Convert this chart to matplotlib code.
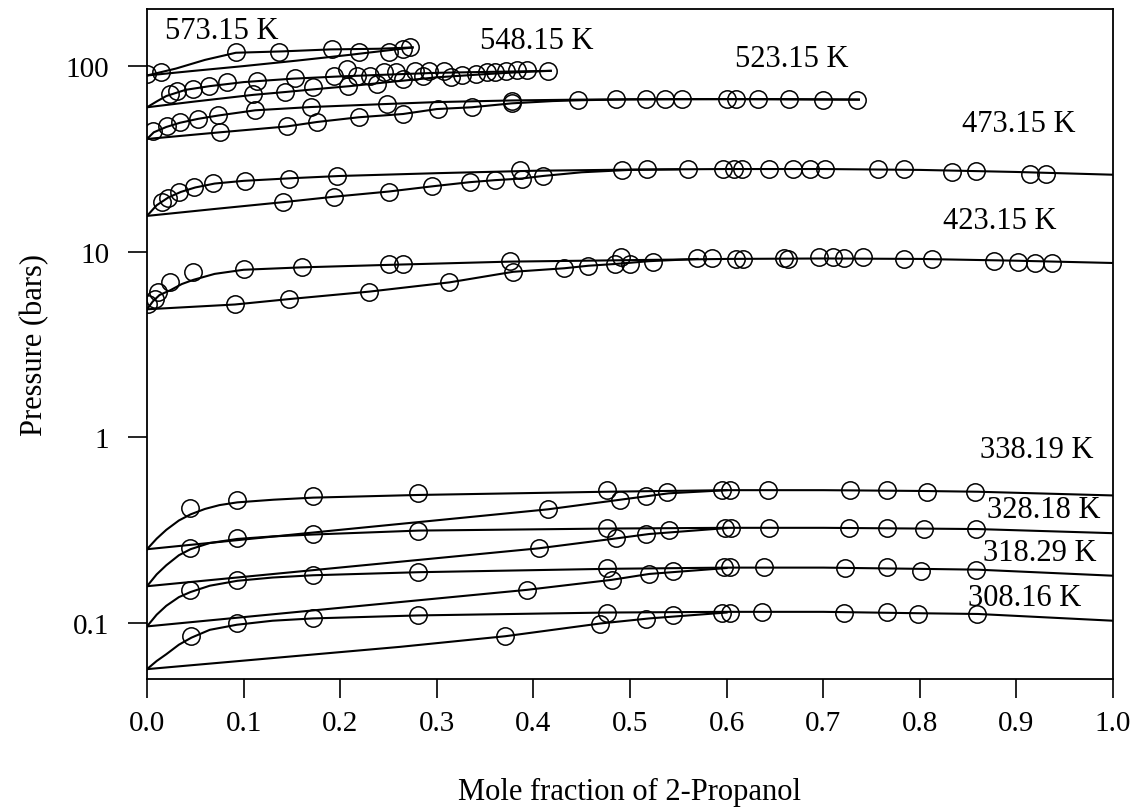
import matplotlib
matplotlib.use("Agg")
import matplotlib.pyplot as plt
from matplotlib.ticker import FixedLocator, FixedFormatter, NullLocator

plt.rcParams['font.family'] = ['Liberation Serif', 'DejaVu Serif']

# ---- 573.15 K ----
t573_bub_x = [0, 0.03, 0.06, 0.092, 0.14, 0.19, 0.24, 0.275]
t573_bub_p = [89, 97, 108, 118, 120, 123, 124, 126]
t573_dew_x = [0, 0.046, 0.1, 0.155, 0.21, 0.275]
t573_dew_p = [89, 94, 100, 107, 115, 126]
t573_pts_x = [0.0, 0.014, 0.092, 0.137, 0.191, 0.219, 0.250, 0.265, 0.272]
t573_pts_p = [90.5, 93, 118.5, 118.5, 123, 119.5, 118.5, 123, 126]

# ---- 548.15 K ----
t548_bub_x = [0, 0.01, 0.02, 0.04, 0.065, 0.1, 0.15, 0.2, 0.25, 0.3, 0.35, 0.418]
t548_bub_p = [60, 64.5, 69, 74.5, 78, 82, 85.5, 88, 90, 92, 93, 94.3]
t548_dew_x = [0, 0.05, 0.11, 0.143, 0.179, 0.21, 0.25, 0.3, 0.35, 0.39, 0.418]
t548_dew_p = [60, 64.5, 70, 72.5, 75.5, 78, 82, 87, 90.5, 93, 94.3]
t548_pts_x = [0.0238, 0.031, 0.048, 0.0645, 0.083, 0.114, 0.153, 0.194, 0.207, 0.217,
              0.231, 0.245, 0.258, 0.277, 0.2915, 0.307, 0.326, 0.341, 0.352, 0.360,
              0.372, 0.383, 0.393, 0.4155,
              0.11, 0.143, 0.172, 0.2085, 0.238, 0.265, 0.286, 0.315]
t548_pts_p = [70.6, 73.6, 75.2, 77.8, 82.3, 83.4, 85.9, 88, 96, 88,
              88.7, 92.5, 93, 94.3, 94.3, 94.3, 89.5, 90.5, 92.5, 93.3,
              94.3, 95.6, 95.6, 94.3,
              70.6, 72.5, 76.8, 78.3, 80, 85, 88.7, 87]

# ---- 523.15 K ----
t523_bub_x = [0, 0.007, 0.02, 0.034, 0.053, 0.074, 0.112, 0.17, 0.248, 0.3, 0.377, 0.45, 0.55, 0.65, 0.737]
t523_bub_p = [40.5, 44, 47, 49.5, 52, 54.2, 57.8, 60.2, 62.5, 64, 65.3, 66, 66.4, 66.4, 66]
t523_dew_x = [0, 0.0756, 0.1446, 0.176, 0.219, 0.265, 0.30, 0.336, 0.3775, 0.42, 0.45, 0.5, 0.6, 0.737]
t523_dew_p = [40.5, 44, 47.3, 50, 53, 55.2, 58.7, 60, 63, 64.8, 65.5, 66.2, 66.4, 66]
t523_pts_x = [0.0066, 0.0204, 0.034, 0.053, 0.074, 0.112, 0.170, 0.248, 0.3775, 0.4465,
              0.486, 0.517, 0.536, 0.5535, 0.600, 0.6097, 0.633, 0.665, 0.70, 0.735,
              0.0756, 0.1446, 0.176, 0.219, 0.265, 0.3016, 0.336, 0.3775]
t523_pts_p = [44.9, 47.3, 49.8, 51.9, 54.5, 58.2, 60, 62.4, 65, 65.6,
              66.4, 66.4, 66.4, 66.4, 66.4, 66.4, 66.4, 66.4, 66, 66,
              44, 47.3, 50.1, 53, 55.2, 58.7, 60, 63]

# ---- 473.15 K ----
t473_bub_x = [0, 0.01, 0.022, 0.035, 0.05, 0.07, 0.1, 0.15, 0.2, 0.3, 0.4, 0.5, 0.6, 0.7, 0.8, 0.9, 1.0]
t473_bub_p = [15.6, 17.8, 19.6, 21.0, 22.2, 23.3, 24.1, 24.9, 25.6, 26.5, 27.3, 27.7, 27.9, 27.9, 27.6, 26.9, 26.0]
t473_dew_x = [0, 0.07, 0.141, 0.194, 0.25, 0.295, 0.334, 0.36, 0.388, 0.41, 0.45, 0.5, 0.55]
t473_dew_p = [15.6, 17.0, 18.5, 19.8, 21.1, 22.5, 23.7, 24.3, 24.8, 25.6, 26.8, 27.6, 27.8]
t473_pts_x = [0.0152, 0.022, 0.0335, 0.049, 0.0687, 0.1014, 0.147, 0.197, 0.386, 0.492,
              0.518, 0.5604, 0.596, 0.6077, 0.6156, 0.644, 0.669, 0.6863, 0.702, 0.757,
              0.7836, 0.833, 0.858, 0.914, 0.931,
              0.141, 0.194, 0.250, 0.295, 0.334, 0.360, 0.388, 0.410]
t473_pts_p = [18.5, 19.6, 21.1, 22.2, 23.4, 24.1, 24.8, 25.6, 27.6, 27.6,
              27.9, 27.9, 27.9, 27.9, 27.9, 27.9, 27.9, 27.9, 27.9, 27.9,
              27.9, 27.0, 27.3, 26.2, 26.2,
              18.5, 19.8, 21.1, 22.5, 23.7, 24.3, 24.8, 25.6]

# ---- 423.15 K ----
t423_bub_x = [0, 0.006, 0.013, 0.024, 0.036, 0.048, 0.07, 0.1, 0.16, 0.25, 0.376, 0.49, 0.6, 0.7, 0.8, 0.9, 1.0]
t423_bub_p = [4.9, 5.4, 5.85, 6.2, 6.7, 7.06, 7.6, 8.0, 8.24, 8.5, 8.85, 9.0, 9.15, 9.2, 9.15, 8.95, 8.7]
t423_dew_x = [0, 0.091, 0.147, 0.23, 0.313, 0.379, 0.432, 0.457, 0.4855, 0.52, 0.57]
t423_dew_p = [4.9, 5.2, 5.56, 6.1, 6.84, 7.8, 8.15, 8.41, 8.6, 8.9, 9.15]
t423_pts_x = [0.0014, 0.0083, 0.0117, 0.0238, 0.048, 0.1007, 0.160, 0.250, 0.265, 0.376,
              0.491, 0.569, 0.585, 0.610, 0.617, 0.659, 0.664, 0.696, 0.710, 0.722,
              0.741, 0.784, 0.813, 0.877, 0.902, 0.919, 0.9365,
              0.091, 0.147, 0.230, 0.313, 0.379, 0.432, 0.457, 0.4845, 0.500, 0.524]
t423_pts_p = [5.23, 5.56, 6.04, 6.84, 7.74, 8.07, 8.24, 8.59, 8.59, 8.88,
              9.33, 9.21, 9.21, 9.14, 9.14, 9.21, 9.14, 9.33, 9.33, 9.21,
              9.33, 9.14, 9.14, 8.96, 8.85, 8.69, 8.69,
              5.23, 5.56, 6.09, 6.84, 7.80, 8.15, 8.41, 8.59, 8.59, 8.85]

# ---- 338.19 K ----
t338_bub_x = [0, 0.01, 0.02, 0.033, 0.045, 0.06, 0.075, 0.0935, 0.131, 0.172, 0.281, 0.476, 0.6, 0.7, 0.8, 0.86, 1.0]
t338_bub_p = [0.25, 0.285, 0.318, 0.357, 0.385, 0.412, 0.432, 0.447, 0.462, 0.474, 0.49, 0.51, 0.52, 0.52, 0.515, 0.51, 0.487]
t338_dew_x = [0, 0.2, 0.415, 0.49, 0.54, 0.6]
t338_dew_p = [0.25, 0.318, 0.41, 0.462, 0.50, 0.52]
t338_pts_x = [0.045, 0.0935, 0.172, 0.281, 0.476, 0.538, 0.595, 0.6035, 0.643, 0.728, 0.766, 0.807, 0.857,
              0.415, 0.49, 0.517]
t338_pts_p = [0.415, 0.462, 0.482, 0.502, 0.523, 0.506, 0.52, 0.52, 0.52, 0.52, 0.52, 0.51, 0.51,
              0.41, 0.462, 0.485]

# ---- 328.18 K ----
t328_bub_x = [0, 0.01, 0.02, 0.033, 0.045, 0.065, 0.0935, 0.13, 0.172, 0.281, 0.476, 0.6, 0.7, 0.8, 0.86, 1.0]
t328_bub_p = [0.158, 0.183, 0.205, 0.232, 0.25, 0.27, 0.284, 0.293, 0.30, 0.315, 0.323, 0.326, 0.326, 0.323, 0.321, 0.305]
t328_dew_x = [0, 0.406, 0.486, 0.52, 0.6]
t328_dew_p = [0.158, 0.253, 0.286, 0.302, 0.325]
t328_pts_x = [0.045, 0.0935, 0.172, 0.281, 0.476, 0.540, 0.598, 0.605, 0.644, 0.727, 0.766, 0.804, 0.858,
              0.406, 0.486, 0.517]
t328_pts_p = [0.253, 0.286, 0.302, 0.315, 0.325, 0.318, 0.325, 0.325, 0.327, 0.325, 0.325, 0.321, 0.321,
              0.253, 0.286, 0.302]

# ---- 318.29 K ----
t318_bub_x = [0, 0.01, 0.02, 0.033, 0.045, 0.065, 0.0935, 0.13, 0.172, 0.281, 0.476, 0.6, 0.7, 0.8, 0.86, 1.0]
t318_bub_p = [0.096, 0.111, 0.124, 0.138, 0.147, 0.159, 0.169, 0.176, 0.181, 0.188, 0.196, 0.199, 0.199, 0.196, 0.194, 0.180]
t318_dew_x = [0, 0.393, 0.481, 0.52, 0.6]
t318_dew_p = [0.096, 0.151, 0.171, 0.184, 0.198]
t318_pts_x = [0.045, 0.0935, 0.172, 0.281, 0.476, 0.544, 0.597, 0.604, 0.639, 0.7226, 0.766, 0.801, 0.858,
              0.393, 0.481, 0.520]
t318_pts_p = [0.150, 0.171, 0.182, 0.189, 0.198, 0.190, 0.1995, 0.1995, 0.1995, 0.197, 0.1995, 0.192, 0.194,
              0.151, 0.171, 0.184]

# ---- 308.16 K ----
t308_bub_x = [0, 0.01, 0.02, 0.033, 0.046, 0.065, 0.093, 0.13, 0.172, 0.281, 0.476, 0.6, 0.7, 0.8, 0.86, 1.0]
t308_bub_p = [0.0565, 0.0625, 0.068, 0.0765, 0.0835, 0.092, 0.098, 0.103, 0.106, 0.110, 0.114, 0.115, 0.115, 0.113, 0.112, 0.103]
t308_dew_x = [0, 0.262, 0.371, 0.469, 0.52, 0.6]
t308_dew_p = [0.0565, 0.0745, 0.085, 0.0995, 0.106, 0.114]
t308_pts_x = [0.046, 0.093, 0.172, 0.281, 0.476, 0.545, 0.595, 0.6035, 0.637, 0.7215, 0.766, 0.798, 0.859,
              0.371, 0.469, 0.517]
t308_pts_p = [0.0849, 0.100, 0.106, 0.110, 0.114, 0.110, 0.114, 0.114, 0.115, 0.114, 0.115, 0.112, 0.112,
              0.085, 0.0995, 0.105]

# labels of the isotherms
iso_labels = ['573.15 K', '548.15 K', '523.15 K', '473.15 K', '423.15 K',
              '338.19 K', '328.18 K', '318.29 K', '308.16 K']
label_x = [0.0186, 0.345, 0.609, 0.844, 0.824, 0.862, 0.870, 0.865, 0.850]
label_p = [156, 138, 110, 49, 14.8, 0.86, 0.411, 0.239, 0.138]

x_ticks = [0.0, 0.1, 0.2, 0.3, 0.4, 0.5, 0.6, 0.7, 0.8, 0.9, 1.0]
y_ticks = [0.1, 1, 10, 100]
y_ticklabels = ['0.1', '1', '10', '100']

isotherms = [
    (t573_bub_x, t573_bub_p, t573_dew_x, t573_dew_p, t573_pts_x, t573_pts_p),
    (t548_bub_x, t548_bub_p, t548_dew_x, t548_dew_p, t548_pts_x, t548_pts_p),
    (t523_bub_x, t523_bub_p, t523_dew_x, t523_dew_p, t523_pts_x, t523_pts_p),
    (t473_bub_x, t473_bub_p, t473_dew_x, t473_dew_p, t473_pts_x, t473_pts_p),
    (t423_bub_x, t423_bub_p, t423_dew_x, t423_dew_p, t423_pts_x, t423_pts_p),
    (t338_bub_x, t338_bub_p, t338_dew_x, t338_dew_p, t338_pts_x, t338_pts_p),
    (t328_bub_x, t328_bub_p, t328_dew_x, t328_dew_p, t328_pts_x, t328_pts_p),
    (t318_bub_x, t318_bub_p, t318_dew_x, t318_dew_p, t318_pts_x, t318_pts_p),
    (t308_bub_x, t308_bub_p, t308_dew_x, t308_dew_p, t308_pts_x, t308_pts_p),
]

fig = plt.figure(figsize=(11.41, 8.12), dpi=100)
ax = fig.add_axes([147/1141, 1 - 680/812, (1113-147)/1141, (680-10)/812])

for bx, bp, dx, dp, px, pp in isotherms:
    ax.plot(bx, bp, color='black', lw=1.5)
    ax.plot(dx, dp, color='black', lw=1.5)
    ax.plot(px, pp, 'o', ms=12.5, mfc='none', mec='black', mew=1.1)

for txt, lx, lp in zip(iso_labels, label_x, label_p):
    ax.text(lx, lp, txt, fontsize=22, ha='left', va='center')

ax.set_yscale('log')
ax.set_xlim(0, 1)
ax.set_ylim(0.05, 203)
ax.xaxis.set_major_locator(FixedLocator(x_ticks))
ax.set_xticklabels(['%.1f' % t for t in x_ticks])
ax.yaxis.set_major_locator(FixedLocator(y_ticks))
ax.yaxis.set_major_formatter(FixedFormatter(y_ticklabels))
ax.yaxis.set_minor_locator(NullLocator())
ax.tick_params(axis='both', which='major', direction='out', length=14, width=1.2,
               labelsize=21, top=False, right=False)
ax.tick_params(axis='y', pad=13)
ax.tick_params(axis='x', pad=8)
for s in ax.spines.values():
    s.set_linewidth(1.3)

ax.set_xlabel('Mole fraction of 2-Propanol', fontsize=22, labelpad=30)
ax.set_ylabel('Pressure (bars)', fontsize=22, labelpad=12)

fig.savefig('out.png', dpi=100)
